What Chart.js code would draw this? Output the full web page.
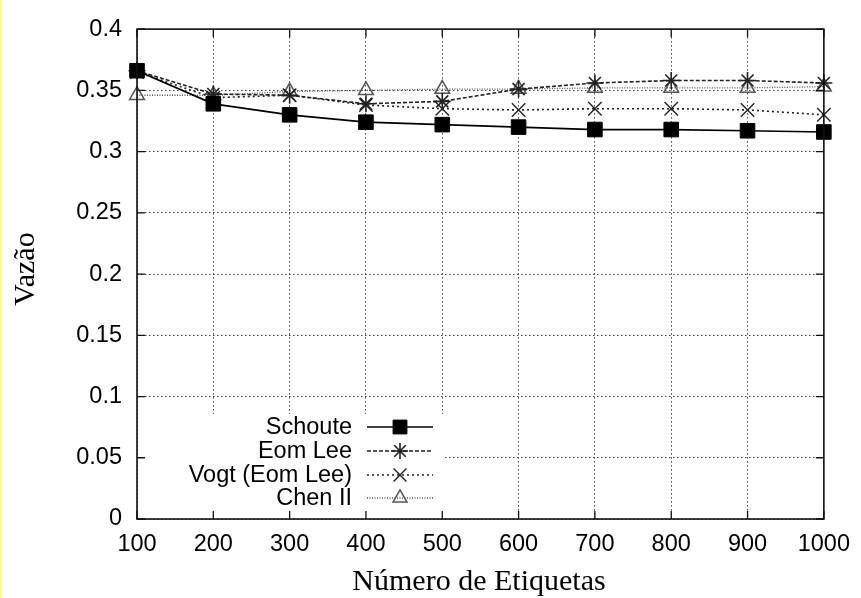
<!DOCTYPE html>
<html>
<head>
<meta charset="utf-8">
<script src="https://cdn.jsdelivr.net/npm/chart.js@4.4.1/dist/chart.umd.min.js"></script>
<style>
html,body{margin:0;padding:0;background:#fff;}
#wrap{width:861px;height:598px;position:relative;}
</style>
</head>
<body>
<div id="wrap"><canvas id="c" width="861" height="598"></canvas></div>
<script>
// ---- data ----
const categories = ['100','200','300','400','500','600','700','800','900','1000'];
const schoute = [0.366, 0.339, 0.330, 0.324, 0.322, 0.320, 0.318, 0.318, 0.317, 0.316];
const eomLee  = [0.366, 0.347, 0.346, 0.339, 0.341, 0.351, 0.356, 0.358, 0.358, 0.356];
const vogt    = [0.365, 0.344, 0.346, 0.338, 0.335, 0.334, 0.335, 0.335, 0.334, 0.330];
const chenII  = [0.346, 0.346, 0.349, 0.350, 0.351, 0.351, 0.352, 0.352, 0.352, 0.353];
const yTickLabels = ['0','0.05','0.1','0.15','0.2','0.25','0.3','0.35','0.4'];
const seriesNames = ['Schoute','Eom Lee','Vogt (Eom Lee)','Chen II'];
const xTitle = 'Número de Etiquetas';
const yTitle = 'Vazão';

const SANS = "'Liberation Sans', Arial, Helvetica, sans-serif";
const SERIF = "'Liberation Serif', 'Times New Roman', serif";

const styles = [
  {color:'#000', dash:[], width:1.7, point:'rect', radius:10.3, fill:'#000', pbw:1},
  {color:'#222', dash:[4,2], width:1.6, point:'star', radius:8.5, fill:'#222', pbw:1.6},
  {color:'#222', dash:[2,3], width:1.6, point:'crossRot', radius:9.5, fill:'#222', pbw:1.4},
  {color:'#555', dash:[1,1.5], width:1.3, point:'triangle', radius:8.5, fill:'rgba(0,0,0,0)', pbw:1.5}
];
const values = [schoute, eomLee, vogt, chenII];

const datasets = values.map((v,i)=>({
  label: seriesNames[i],
  data: v,
  borderColor: styles[i].color,
  borderWidth: styles[i].width,
  borderDash: styles[i].dash,
  pointStyle: styles[i].point,
  pointRadius: styles[i].radius,
  pointBorderColor: styles[i].color,
  pointBackgroundColor: styles[i].fill,
  pointBorderWidth: styles[i].pbw,
  tension: 0,
  fill: false,
  clip: false
}));

const legendBox = {x1:138, y1:414, x2:444, y2:518};

const decor = {
  id: 'decor',
  beforeDraw(chart){
    const ctx = chart.ctx;
    ctx.save();
    ctx.fillStyle = '#fff';
    ctx.fillRect(0,0,chart.width,chart.height);
    ctx.fillStyle = '#ffff88';
    ctx.fillRect(0,0,2,chart.height);
    ctx.restore();
  },
  beforeDatasetsDraw(chart){
    const ctx = chart.ctx;
    ctx.save();
    ctx.fillStyle = '#fff';
    ctx.fillRect(legendBox.x1, legendBox.y1, legendBox.x2-legendBox.x1, legendBox.y2-legendBox.y1);
    ctx.restore();
  },
  afterDraw(chart){
    const ctx = chart.ctx;
    const a = chart.chartArea;
    const xs = chart.scales.x, ys = chart.scales.y;
    ctx.save();
    // frame
    ctx.strokeStyle = '#111';
    ctx.lineWidth = 1.6;
    ctx.setLineDash([]);
    ctx.strokeRect(a.left, a.top, a.right-a.left, a.bottom-a.top);
    // inward ticks
    ctx.lineWidth = 1.3;
    ctx.beginPath();
    const tl = 8;
    xs.ticks.forEach((t,i)=>{
      const px = xs.getPixelForTick(i);
      ctx.moveTo(px, a.bottom); ctx.lineTo(px, a.bottom - tl);
      ctx.moveTo(px, a.top); ctx.lineTo(px, a.top + tl);
    });
    ys.ticks.forEach((t,i)=>{
      const py = ys.getPixelForValue(t.value);
      ctx.moveTo(a.left, py); ctx.lineTo(a.left + tl, py);
      ctx.moveTo(a.right, py); ctx.lineTo(a.right - tl, py);
    });
    ctx.stroke();
    // legend
    const rows = [427, 451, 475, 498];
    ctx.font = '23.5px ' + SANS;
    ctx.textAlign = 'right';
    ctx.textBaseline = 'middle';
    seriesNames.forEach((name,i)=>{
      const y = rows[i];
      const s = styles[i];
      ctx.fillStyle = '#000';
      ctx.fillText(name, 352, y+1);
      ctx.strokeStyle = s.color;
      ctx.lineWidth = s.width;
      ctx.setLineDash(s.dash);
      ctx.beginPath();
      ctx.moveTo(367, y); ctx.lineTo(433, y);
      ctx.stroke();
      ctx.setLineDash([]);
      ctx.fillStyle = s.fill;
      ctx.strokeStyle = s.color;
      ctx.lineWidth = s.pbw;
      Chart.helpers.drawPoint(ctx, {pointStyle: s.point, radius: s.radius*0.95, rotation: 0, borderWidth: s.pbw}, 400, y);
    });
    // axis titles
    ctx.fillStyle = '#000';
    ctx.font = '30px ' + SERIF;
    ctx.textAlign = 'center';
    ctx.textBaseline = 'alphabetic';
    ctx.fillText(xTitle, 479, 590);
    ctx.translate(34, 269);
    ctx.rotate(-Math.PI/2);
    ctx.fillText(yTitle, 0, 0);
    ctx.restore();
  }
};

new Chart(document.getElementById('c'), {
  type: 'line',
  data: { labels: categories, datasets },
  options: {
    responsive: false,
    animation: false,
    layout: { padding: { left: 0, top: 19, right: 35, bottom: 0 } },
    plugins: { legend: { display: false }, tooltip: { enabled: false } },
    scales: {
      x: {
        type: 'category',
        offset: false,
        afterFit(s){ s.height = 79; },
        grid: { color: '#444', lineWidth: 1, drawTicks: false },
        border: { display: false, dash: [1.5, 2.5] },
        ticks: { color: '#000', font: { family: SANS, size: 23.5 }, padding: 11, maxRotation: 0, autoSkip: false }
      },
      y: {
        min: 0, max: 0.4,
        afterFit(s){ s.width = 137; },
        grid: { color: '#444', lineWidth: 1, drawTicks: false },
        border: { display: false, dash: [1.5, 2.5] },
        ticks: {
          stepSize: 0.05, color: '#000', font: { family: SANS, size: 23.5 }, padding: 15,
          callback: (v, i) => yTickLabels[i]
        }
      }
    }
  },
  plugins: [decor]
});
</script>
</body>
</html>
